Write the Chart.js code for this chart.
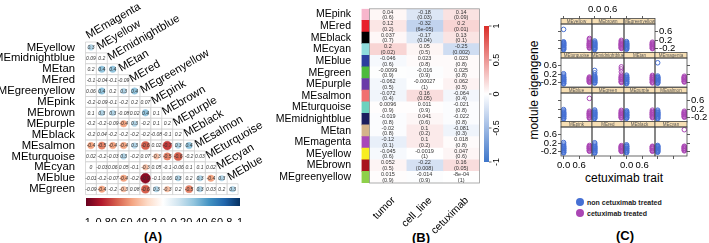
<!DOCTYPE html>
<html>
<head>
<meta charset="utf-8">
<script src="https://cdn.jsdelivr.net/npm/chart.js@4.4.1/dist/chart.umd.min.js"></script>
<style>
  body { margin: 0; width: 709px; height: 243px; position: relative; overflow: hidden; background: #fff;
         font-family: "Liberation Sans", Arial, Helvetica, sans-serif; }
  canvas { position: absolute; }
  .txt { position: absolute; white-space: nowrap; transform: translate(-50%, -50%); color: #000; }
  .tag { font-weight: bold; font-size: 13px; }
  .legend { position: absolute; font-size: 7px; font-weight: bold; color: #222; }
  .legend div { height: 11px; line-height: 11px; }
  .dot { display: inline-block; width: 8px; height: 8px; border-radius: 50%; vertical-align: middle; margin-right: 3px; position: relative; top: -1px; }
</style>
</head>
<body>
<div class="txt tag" style="left:153px;top:236px">(A)</div>
<div class="txt tag" style="left:421px;top:237px">(B)</div>
<div class="txt tag" style="left:625px;top:235px">(C)</div>
<div class="txt" style="left:534px;top:90px;font-size:12px;transform:translate(-50%,-50%) rotate(-90deg)">module eigengene</div>
<div class="txt" style="left:624px;top:178px;font-size:12px">cetuximab trait</div>
<div class="legend" id="legendC" style="left:576px;top:197px"></div>
<script>
const FONT = '"Liberation Sans", Arial, Helvetica, sans-serif';

// Panel A: correlations between module eigengenes (lower triangle)
const corrRows = ["MEyellow", "MEmidnightblue", "MEtan", "MEred", "MEgreenyellow", "MEpink", "MEbrown",
  "MEpurple", "MEblack", "MEsalmon", "MEturquoise", "MEcyan", "MEblue", "MEgreen"];
const corrCols = ["MEmagenta", "MEyellow", "MEmidnightblue", "MEtan", "MEred", "MEgreenyellow", "MEpink",
  "MEbrown", "MEpurple", "MEblack", "MEsalmon", "MEturquoise", "MEcyan", "MEblue"];
const corrValues = [
  [0.3],
  [0.09, 0.2],
  [0.2, 0.4, 0.4],
  [-0.1, -0.04, -0.1, -0.09],
  [0.06, 0.4, 0.2, 0.3, 0.4],
  [-0.2, -0.09, -0.1, -0.2, 0.2, 0.07],
  [0.1, 0.3, 0.3, -0.08, 0.02, 0.4, 0.1],
  [-0.2, -0.2, -0.09, -0.4, 0.3, -0.2, 0.1, 0.2],
  [-0.2, 0.04, -0.2, -0.2, -0.2, -0.2, -0.08, -0.1, 0.2],
  [-0.4, -0.5, -0.4, -0.4, 0.3, -0.6, 0.02, -0.7, 0.3, 0.4],
  [0.02, -0.2, -0.03, 0.3, -0.2, 0.07, -0.3, -0.5, -0.6, -0.2, 0.03],
  [0, -0.03, 0.06, 0.05, -0.1, -0.3, 0.05, -0.1, -0.06, 0.1, 0.1, 0.02],
  [-0.01, -0.2, -0.07, -0.4, -0.2, -0.9, -0.1, 0.06, 0.3, 0.2, 0.3, -0.4, 0.3],
  [-0.09, -0.4, -0.2, -0.3, 0.08, -0.6, 0.3, -0.3, 0.2, -0.5, 0.3, 0.03, 0.2, 0.3]
];
const corrTicks = [-1, -0.8, -0.6, -0.4, -0.2, 0, 0.2, 0.4, 0.6, 0.8, 1];

// Panel B: module-trait relationships
const traitRows = ["MEpink", "MEred", "MEblack", "MEcyan", "MEblue", "MEgreen", "MEpurple", "MEsalmon",
  "MEturquoise", "MEmidnightblue", "MEtan", "MEmagenta", "MEyellow", "MEbrown", "MEgreenyellow"];
const traitColors = ["#F7B6CC", "#E8202A", "#000000", "#8FDCDC", "#2C3E9E", "#4DBB3C", "#6A3AA8", "#F07070",
  "#6CD2BE", "#1B1F5E", "#D4B48A", "#A848B8", "#F8EE20", "#A8141E", "#8ED04A"];
const traitNames = ["tumor", "cell_line", "cetuximab"];
const corTumor = [0.04, 0.12, 0.037, 0.2, -0.046, -0.0099, -0.062, -0.072, 0.0096, -0.019, -0.02, -0.12, -0.045, 0.052, 0.015];
const corCellLine = [-0.18, -0.32, -0.17, 0.05, 0.023, -0.016, -0.00027, 0.16, 0.011, 0.041, 0.1, 0.1, -0.0019, -0.22, -0.014];
const corCetuximab = [0.14, 0.2, 0.13, -0.25, 0.023, 0.025, 0.062, -0.064, -0.021, -0.022, -0.081, 0.018, 0.047, 0.16, -0.0008];
const pTumor = [0.6, 0.2, 0.7, 0.02, 0.6, 0.9, 0.5, 0.4, 0.9, 0.8, 0.8, 0.1, 0.6, 0.5, 0.9];
const pCellLine = [0.03, 6e-5, 0.04, 0.5, 0.8, 0.9, 1, 0.05, 0.9, 0.6, 0.2, 0.2, 1, 0.008, 0.9];
const pCetuximab = [0.09, 0.01, 0.1, 0.002, 0.8, 0.8, 0.5, 0.4, 0.8, 0.8, 0.3, 0.8, 0.6, 0.05, 1];
const heatTicks = [1, 0.5, 0, -0.5, -1];

// Panel C: eigengene values by cetuximab trait, one facet per module
const facetNames = ["MEyellow", "MEbrown", "MEgreenyellow", "MEturquoise", "MEmidnightblue", "MEtan", "MEmagenta",
  "MEblue", "MEgreen", "MEpurple", "MEsalmon", "MEpink", "MEred", "MEblack", "MEcyan"];
const nonTreatedME = [
  [-0.26, -0.23, -0.21, -0.18, -0.15, -0.13, -0.09, -0.06, -0.04, -0.02, 0.01, 0.04, 0.06, 0.08, 0.12, 0.72],
  [-0.25, -0.22, -0.2, -0.16, -0.14, -0.12, -0.08, -0.05, -0.03, -0.01, 0.03, 0.05, 0.07, 0.11, 0.16],
  [-0.24, -0.21, -0.19, -0.15, -0.13, -0.11, -0.07, -0.05, -0.03, 0.0, 0.02, 0.04, 0.08, 0.13],
  [-0.27, -0.24, -0.22, -0.17, -0.14, -0.12, -0.08, -0.06, -0.04, 0.0, 0.03, 0.05, 0.1, 0.16, 0.22],
  [-0.23, -0.2, -0.18, -0.13, -0.11, -0.09, -0.05, -0.03, -0.01, 0.03, 0.06, 0.08, 0.14, 0.26, 0.38],
  [-0.26, -0.23, -0.21, -0.16, -0.14, -0.12, -0.07, -0.05, -0.03, 0.01, 0.03, 0.05, 0.1, 0.15],
  [-0.24, -0.21, -0.19, -0.14, -0.12, -0.1, -0.06, -0.04, -0.02, 0.02, 0.04, 0.06, 0.11, 0.75],
  [-0.27, -0.24, -0.22, -0.17, -0.15, -0.13, -0.09, -0.07, -0.05, -0.01, 0.01, 0.03, 0.07, 0.12, 0.18],
  [-0.25, -0.22, -0.2, -0.15, -0.13, -0.1, -0.06, -0.04, -0.02, 0.02, 0.04, 0.06, 0.11, 0.16],
  [-0.24, -0.21, -0.19, -0.14, -0.12, -0.1, -0.06, -0.04, -0.02, 0.03, 0.05, 0.07, 0.12],
  [-0.26, -0.23, -0.21, -0.16, -0.13, -0.11, -0.07, -0.05, -0.03, 0.01, 0.03, 0.05, 0.1, 0.15],
  [-0.27, -0.24, -0.22, -0.17, -0.15, -0.12, -0.08, -0.06, -0.04, 0.0, 0.02, 0.05, 0.1, 0.16, 0.23],
  [-0.28, -0.25, -0.23, -0.18, -0.16, -0.13, -0.09, -0.07, -0.04, 0.0, 0.02, 0.05, 0.1, 0.16, 0.22],
  [-0.26, -0.23, -0.21, -0.16, -0.14, -0.11, -0.07, -0.05, -0.03, 0.02, 0.04, 0.07, 0.12],
  [-0.24, -0.21, -0.19, -0.15, -0.13, -0.11, -0.07, -0.05, -0.03, 0.01, 0.03, 0.05, 0.09]
];
const treatedME = [
  [-0.18, -0.15, -0.13, -0.08, -0.06, -0.04, 0.0, 0.02, 0.04, 0.09, 0.15, 0.22, 0.28],
  [-0.2, -0.17, -0.15, -0.1, -0.07, -0.05, -0.01, 0.01, 0.03, 0.08, 0.13, 0.19],
  [-0.21, -0.18, -0.16, -0.11, -0.08, -0.06, -0.02, 0.0, 0.02, 0.06, 0.1],
  [-0.19, -0.16, -0.14, -0.1, -0.08, -0.06, -0.02, 0.0, 0.02, 0.06],
  [-0.2, -0.17, -0.14, -0.08, -0.05, -0.03, 0.02, 0.05, 0.08, 0.16, 0.31, 0.45, 0.55],
  [-0.22, -0.19, -0.16, -0.1, -0.07, -0.05, -0.01, 0.02, 0.04, 0.09, 0.14],
  [-0.18, -0.15, -0.13, -0.08, -0.05, -0.03, 0.01, 0.03, 0.05, 0.1],
  [-0.23, -0.2, -0.17, -0.12, -0.09, -0.07, -0.03, -0.01, 0.01, 0.05, 0.1, 0.72],
  [-0.22, -0.19, -0.17, -0.12, -0.09, -0.07, -0.02, 0.0, 0.03, 0.08, 0.14],
  [-0.21, -0.18, -0.15, -0.1, -0.07, -0.05, -0.01, 0.02, 0.04, 0.09, 0.15],
  [-0.19, -0.16, -0.13, -0.08, -0.06, -0.04, 0.0, 0.02, 0.05, 0.1],
  [-0.19, -0.16, -0.13, -0.08, -0.06, -0.04, 0.0, 0.02, 0.04, 0.09],
  [-0.2, -0.17, -0.15, -0.1, -0.07, -0.05, -0.01, 0.01, 0.03, 0.08],
  [-0.19, -0.16, -0.14, -0.09, -0.06, -0.04, 0.0, 0.02, 0.05],
  [-0.17, -0.14, -0.11, -0.06, -0.04, -0.02, 0.03, 0.05, 0.85]
];
const seriesLabels = ["non cetuximab treated", "cetuximab treated"];
const seriesColors = ["#4670D4", "#AA46B4"];
const facetXTicks = [0, 0.6];
const facetYTicks = [-0.2, 0.2, 0.6];

Chart.defaults.font.family = FONT;
Chart.defaults.color = "#000";

// Create an absolutely positioned canvas
function makeCanvas(left, top, w, h) {
  const c = document.createElement("canvas");
  c.width = w;
  c.height = h;
  c.style.left = left + "px";
  c.style.top = top + "px";
  c.style.width = w + "px";
  c.style.height = h + "px";
  document.body.appendChild(c);
  return c;
}

function hexToRgb(h) {
  return [1, 3, 5].map((i) => parseInt(h.substr(i, 2), 16));
}

// corrplot RdBu palette
const rdbu = ["#67001F", "#B2182B", "#D6604D", "#F4A582", "#FDDBC7", "#FFFFFF",
  "#D1E5F0", "#92C5DE", "#4393C3", "#2166AC", "#053061"];
function corrColor(v) {
  const t = ((v + 1) / 2) * 10;
  const k = Math.min(9, Math.floor(t));
  const f = t - k;
  const a = hexToRgb(rdbu[k]);
  const b = hexToRgb(rdbu[k + 1]);
  return "rgb(" + a.map((c, i) => Math.round(c + (b[i] - c) * f)).join(",") + ")";
}

// blue - white - red for the trait heatmap
function heatColor(v) {
  const a = Math.min(Math.abs(v), 1);
  const end = v >= 0 ? [218, 45, 40] : [62, 118, 202];
  return "rgb(" + end.map((e) => Math.round(255 + (e - 255) * a)).join(",") + ")";
}

// R-like short number format
function rNum(v) {
  const fixed = String(v);
  if (v === 0) return fixed;
  const sci = v.toExponential().replace(/e([+-])(\d)$/, "e$10$2");
  return sci.length < fixed.length ? sci : fixed;
}

// ---------- Panel A ----------
const cellPoints = [];
const circlePoints = [];
corrValues.forEach((row, i) => {
  row.forEach((v, j) => {
    cellPoints.push({ x: j, y: i, v: v });
    if (Math.abs(v) >= 0.3) circlePoints.push({ x: j, y: i, v: v });
  });
});

function cellPx(chart) {
  const s = chart.scales.x;
  return Math.abs(s.getPixelForValue(1) - s.getPixelForValue(0));
}

const corrLabels = {
  id: "corrLabels",
  afterDraw(chart) {
    const { ctx, scales: { x, y } } = chart;
    ctx.save();
    ctx.font = "italic 5px " + FONT;
    ctx.textAlign = "center";
    ctx.textBaseline = "middle";
    ctx.fillStyle = "#333";
    cellPoints.forEach((p) => {
      ctx.fillText(String(p.v), x.getPixelForValue(p.x), y.getPixelForValue(p.y) + 0.3);
    });
    // column names along the diagonal
    ctx.font = "11.3px " + FONT;
    ctx.fillStyle = "#000";
    ctx.textAlign = "left";
    ctx.textBaseline = "alphabetic";
    corrCols.forEach((name, j) => {
      ctx.save();
      ctx.translate(x.getPixelForValue(j - 0.5) + 3, y.getPixelForValue(j - 0.5) - 3);
      ctx.rotate((-30 * Math.PI) / 180);
      ctx.fillText(name, 0, 0);
      ctx.restore();
    });
    ctx.restore();
  },
};

new Chart(makeCanvas(0, 0, 300, 243), {
  type: "scatter",
  data: {
    datasets: [
      {
        data: circlePoints,
        order: 1,
        pointStyle: "circle",
        pointRadius: (c) => (c.raw ? (cellPx(c.chart) / 2) * 0.95 * Math.sqrt(Math.abs(c.raw.v)) : 0),
        backgroundColor: (c) => (c.raw ? corrColor(c.raw.v) : "#fff"),
        borderColor: (c) => (c.raw ? corrColor(c.raw.v) : "#fff"),
        borderWidth: 0.5,
      },
      {
        data: cellPoints,
        order: 2,
        pointStyle: "rect",
        pointRadius: (c) => cellPx(c.chart) * Math.SQRT1_2,
        backgroundColor: "#fff",
        borderColor: "#c4c4c4",
        borderWidth: 0.6,
      },
    ],
  },
  options: {
    responsive: false,
    animation: false,
    events: [],
    clip: false,
    layout: { padding: { left: 0, top: 42, right: 61.9, bottom: 48.4 } },
    scales: {
      x: { type: "linear", min: -0.5, max: 13.5, display: false },
      y: {
        type: "linear",
        min: -0.5,
        max: 13.5,
        reverse: true,
        afterBuildTicks: (s) => { s.ticks = corrRows.map((_, i) => ({ value: i })); },
        afterFit: (s) => { s.width = 85.5; },
        ticks: {
          autoSkip: false,
          padding: 2.5,
          font: { size: 11.3 },
          color: "#000",
          callback: (v, i) => corrRows[i],
        },
        grid: { display: false },
        border: { display: false },
      },
    },
    plugins: { legend: { display: false }, tooltip: { enabled: false } },
  },
  plugins: [corrLabels],
});

// colour key of panel A
const corrBarDraw = {
  id: "corrBarDraw",
  beforeDraw(chart) {
    const { ctx, chartArea: a } = chart;
    const g = ctx.createLinearGradient(a.left, 0, a.right, 0);
    rdbu.forEach((c, i) => g.addColorStop(i / 10, c));
    ctx.save();
    ctx.fillStyle = g;
    ctx.fillRect(a.left, a.top, a.right - a.left, a.bottom - a.top);
    ctx.restore();
  },
};

new Chart(makeCanvas(0, 190, 300, 40), {
  type: "scatter",
  data: { datasets: [] },
  options: {
    responsive: false,
    animation: false,
    events: [],
    layout: { padding: { left: 86, right: 60, top: 8, bottom: 8 } },
    scales: {
      x: {
        type: "linear",
        min: -1,
        max: 1,
        afterBuildTicks: (s) => { s.ticks = corrTicks.map((v) => ({ value: v })); },
        afterFit: (s) => { s.height = 16; },
        ticks: { autoSkip: false, maxRotation: 0, minRotation: 0, padding: 2, font: { size: 11 }, color: "#000", callback: (v) => String(v) },
        grid: { display: false },
        border: { display: false },
      },
      y: { display: false, min: 0, max: 1 },
    },
    plugins: { legend: { display: false }, tooltip: { enabled: false } },
  },
  plugins: [corrBarDraw],
});

// ---------- Panel B ----------
const traitCor = [corTumor, corCellLine, corCetuximab];
const traitP = [pTumor, pCellLine, pCetuximab];

const heatLabels = {
  id: "heatLabels",
  afterDraw(chart) {
    const { ctx, chartArea: a, scales: { x } } = chart;
    ctx.save();
    ctx.font = "5.5px " + FONT;
    ctx.fillStyle = "#333";
    ctx.textAlign = "center";
    ctx.textBaseline = "middle";
    traitCor.forEach((vals, j) => {
      const meta = chart.getDatasetMeta(j + 1);
      meta.data.forEach((bar, i) => {
        const cx = (bar.x + bar.base) / 2;
        ctx.fillText(rNum(vals[i]), cx, bar.y - 2.6);
        ctx.fillText("(" + rNum(traitP[j][i]) + ")", cx, bar.y + 3);
      });
    });
    // frame round the heatmap
    ctx.strokeStyle = "#9a9a9a";
    ctx.lineWidth = 0.8;
    const l = x.getPixelForValue(0);
    ctx.strokeRect(l, a.top, x.getPixelForValue(3) - l, a.bottom - a.top);
    // trait names, rotated
    ctx.font = "10.5px " + FONT;
    ctx.fillStyle = "#000";
    ctx.textAlign = "right";
    ctx.textBaseline = "top";
    traitNames.forEach((name, j) => {
      ctx.save();
      ctx.translate(x.getPixelForValue(j + 0.5) + 2, a.bottom + 12);
      ctx.rotate(-Math.PI / 4);
      ctx.fillText(name, 0, 0);
      ctx.restore();
    });
    ctx.restore();
  },
};

const barCommon = { barPercentage: 1, categoryPercentage: 1, grouped: false, borderWidth: 0 };
new Chart(makeCanvas(250, 0, 300, 243), {
  type: "bar",
  data: {
    labels: traitRows,
    datasets: [
      Object.assign({ label: "module", data: traitRows.map(() => [-0.22, 0]), backgroundColor: traitColors }, barCommon),
    ].concat(traitNames.map((name, j) =>
      Object.assign({ label: name, data: traitRows.map(() => [j, j + 1]), backgroundColor: traitCor[j].map(heatColor) }, barCommon)
    )),
  },
  options: {
    indexAxis: "y",
    responsive: false,
    animation: false,
    events: [],
    layout: { padding: { left: 0, top: 3, right: 70.5, bottom: 60 } },
    scales: {
      x: { type: "linear", min: -0.22, max: 3, display: false },
      y: {
        afterFit: (s) => { s.width = 111.5; },
        ticks: { autoSkip: false, padding: 2.5, font: { size: 10.5 }, color: "#000" },
        grid: { display: false },
        border: { display: false },
      },
    },
    plugins: { legend: { display: false }, tooltip: { enabled: false } },
  },
  plugins: [heatLabels],
});

// colour key of panel B
const heatBarDraw = {
  id: "heatBarDraw",
  afterDraw(chart) {
    const { ctx, chartArea: a, scales: { y } } = chart;
    ctx.save();
    const g = ctx.createLinearGradient(0, a.bottom, 0, a.top);
    g.addColorStop(0, heatColor(-1));
    g.addColorStop(0.5, "#ffffff");
    g.addColorStop(1, heatColor(1));
    ctx.fillStyle = g;
    ctx.fillRect(a.left, a.top, a.right - a.left, a.bottom - a.top);
    ctx.strokeStyle = "#444";
    ctx.lineWidth = 0.8;
    ctx.font = "9px " + FONT;
    ctx.fillStyle = "#000";
    ctx.textAlign = "center";
    ctx.textBaseline = "middle";
    heatTicks.forEach((t) => {
      const py = y.getPixelForValue(t);
      ctx.beginPath();
      ctx.moveTo(a.right, py);
      ctx.lineTo(a.right + 2.5, py);
      ctx.stroke();
      ctx.save();
      ctx.translate(a.right + 8, py);
      ctx.rotate(-Math.PI / 2);
      ctx.fillText(String(t), 0, 0);
      ctx.restore();
    });
    ctx.restore();
  },
};

new Chart(makeCanvas(478, 0, 40, 243), {
  type: "scatter",
  data: { datasets: [] },
  options: {
    responsive: false,
    animation: false,
    events: [],
    layout: { padding: { left: 6, right: 29, top: 26, bottom: 81 } },
    scales: {
      x: { display: false, min: 0, max: 1 },
      y: { display: false, min: -1, max: 1 },
    },
    plugins: { legend: { display: false }, tooltip: { enabled: false } },
  },
  plugins: [heatBarDraw],
});

// ---------- Panel C ----------
const PAD = 26;

const facetFrame = {
  id: "facetFrame",
  afterDraw(chart, args, opts) {
    const { ctx, chartArea: a } = chart;
    ctx.save();
    ctx.fillStyle = "#F7DFB4";
    ctx.fillRect(a.left, a.top - 5.5, a.width, 5.5);
    ctx.strokeStyle = "#444";
    ctx.lineWidth = 0.8;
    ctx.strokeRect(a.left, a.top - 5.5, a.width, 5.5);
    ctx.strokeRect(a.left, a.top, a.width, a.height);
    ctx.fillStyle = "#555";
    ctx.font = "4.5px " + FONT;
    ctx.textAlign = "center";
    ctx.textBaseline = "middle";
    ctx.fillText(opts.name, a.left + a.width / 2, a.top - 2.7);
    ctx.restore();
  },
};

function facetAxis(pos, labels, marks) {
  const horiz = pos === "top" || pos === "bottom";
  return {
    type: "linear",
    position: pos,
    min: horiz ? -0.1 : -0.42,
    max: horiz ? 1.1 : 0.98,
    afterBuildTicks: (s) => { s.ticks = (horiz ? facetXTicks : facetYTicks).map((v) => ({ value: v })); },
    afterFit: (s) => {
      if (horiz) s.height = PAD; else s.width = PAD;
      s.paddingLeft = s.paddingRight = s.paddingTop = s.paddingBottom = 0;
    },
    ticks: {
      display: labels,
      autoSkip: false,
      maxRotation: 0,
      minRotation: 0,
      padding: 1,
      font: { size: 9.5 },
      color: "#000",
      callback: (v) => Number(v).toFixed(1),
    },
    grid: { display: marks, drawOnChartArea: false, drawTicks: true, tickLength: pos === "top" ? 8 : 3, color: "#333", lineWidth: 0.8 },
    border: { display: false },
  };
}

facetNames.forEach((name, idx) => {
  const row = idx < 3 ? 0 : 1 + Math.floor((idx - 3) / 4);
  const col = idx < 3 ? idx : (idx - 3) % 4;
  const left = Math.round(561 + col * 31.4);
  const right = Math.round(561 + (col + 1) * 31.4);
  const top = Math.round(23.6 + row * 34.6);
  const h = 29;
  const canvas = makeCanvas(left - PAD, top - PAD, right - left + 2 * PAD, h + 2 * PAD);

  new Chart(canvas, {
    type: "scatter",
    data: {
      datasets: [
        { label: seriesLabels[0], data: nonTreatedME[idx].map((v) => ({ x: 0, y: v })), borderColor: seriesColors[0] },
        { label: seriesLabels[1], data: treatedME[idx].map((v) => ({ x: 1, y: v })), borderColor: seriesColors[1] },
      ],
    },
    options: {
      responsive: false,
      animation: false,
      events: [],
      layout: { padding: 0 },
      elements: { point: { radius: 2.3, borderWidth: 1, backgroundColor: "rgba(0,0,0,0)" } },
      scales: {
        x: facetAxis("bottom", row === 3 && (col === 0 || col === 2), row === 3),
        x2: facetAxis("top", row === 0 && col === 1, row === 0),
        y: facetAxis("left", col === 0 && (row === 1 || row === 3), col === 0),
        y2: facetAxis("right", idx === 2 || (row === 2 && col === 3), col === 3 || idx === 2),
      },
      plugins: { legend: { display: false }, tooltip: { enabled: false }, facetFrame: { name: name } },
    },
    plugins: [facetFrame],
  });
});

// legend of panel C
const legendEl = document.getElementById("legendC");
seriesLabels.forEach((lab, i) => {
  const d = document.createElement("div");
  d.innerHTML = '<span class="dot" style="background:' + seriesColors[i] + '"></span>' + lab;
  legendEl.appendChild(d);
});
</script>
</body>
</html>
